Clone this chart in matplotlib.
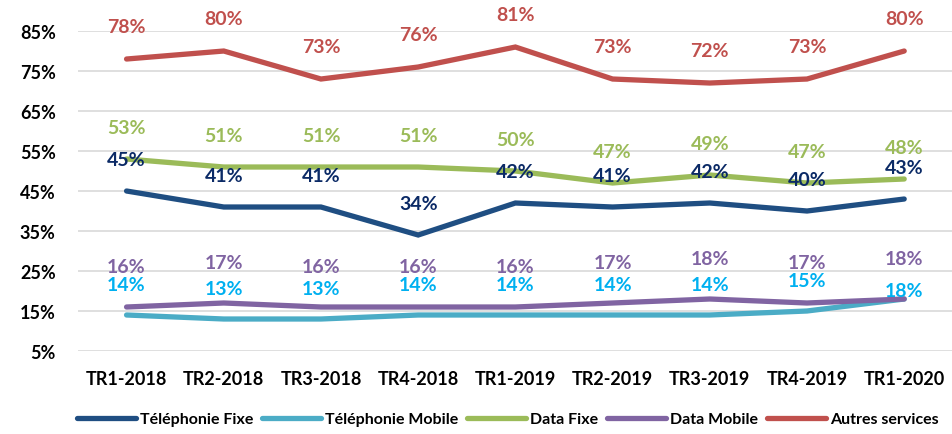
import matplotlib.pyplot as plt

categories = ["TR1-2018", "TR2-2018", "TR3-2018", "TR4-2018", "TR1-2019",
              "TR2-2019", "TR3-2019", "TR4-2019", "TR1-2020"]
tel_fixe = [45, 41, 41, 34, 42, 41, 42, 40, 43]
tel_mobile = [14, 13, 13, 14, 14, 14, 14, 15, 18]
data_fixe = [53, 51, 51, 51, 50, 47, 49, 47, 48]
data_mobile = [16, 17, 16, 16, 16, 17, 18, 17, 18]
autres = [78, 80, 73, 76, 81, 73, 72, 73, 80]
yticks = [5, 15, 25, 35, 45, 55, 65, 75, 85]

plt.rcParams['font.family'] = ['Lato', 'DejaVu Sans']

series = [
    ("Téléphonie Fixe", tel_fixe, "#1f4e82", "#0b2a66", 32),
    ("Téléphonie Mobile", tel_mobile, "#4bacc6", "#00b0f0", 31),
    ("Data Fixe", data_fixe, "#9bbb59", "#9bbb59", 32),
    ("Data Mobile", data_mobile, "#8064a2", "#8064a2", 41),
    ("Autres services", autres, "#c0504d", "#c0504d", 33),
]

fig = plt.figure(figsize=(9.53, 4.35), dpi=100)
ax = fig.add_axes([0.0818, 0.1908, 0.918, 0.7356])
x = range(len(categories))

for name, vals, col, lcol, off in series:
    ax.plot(x, vals, color=col, lw=3.8, label=name, solid_capstyle='round',
            solid_joinstyle='miter')
    for i, v in enumerate(vals):
        o = off
        if name == "Téléphonie Mobile" and i == len(vals) - 1:
            o = 9
        ax.annotate(f"{v}%", (i, v), xytext=(0, o), textcoords='offset pixels',
                    ha='center', va='center', color=lcol, fontsize=14,
                    fontweight='bold', annotation_clip=False)

ax.set_xlim(-0.5, 8.5)
ax.set_ylim(5, 85)
ax.set_yticks(yticks)
ax.set_yticklabels([f"{t}%" for t in yticks], fontsize=13, fontweight='bold')
ax.set_xticks(list(x))
ax.set_xticklabels(categories, fontsize=13, fontweight='bold')
ax.tick_params(length=0, pad=16)
ax.tick_params(axis='x', pad=14)
ax.grid(axis='y', color='#d9d9d9', lw=1.2)
ax.set_axisbelow(True)
for s in ax.spines.values():
    s.set_visible(False)

fig.legend(loc='lower center', ncol=5, bbox_to_anchor=(0.533, -0.015), frameon=False,
           prop={'weight': 'bold', 'size': 11.5}, handlelength=3.7,
           handletextpad=0.25, columnspacing=0.55)

fig.savefig("out.png", dpi=100)
